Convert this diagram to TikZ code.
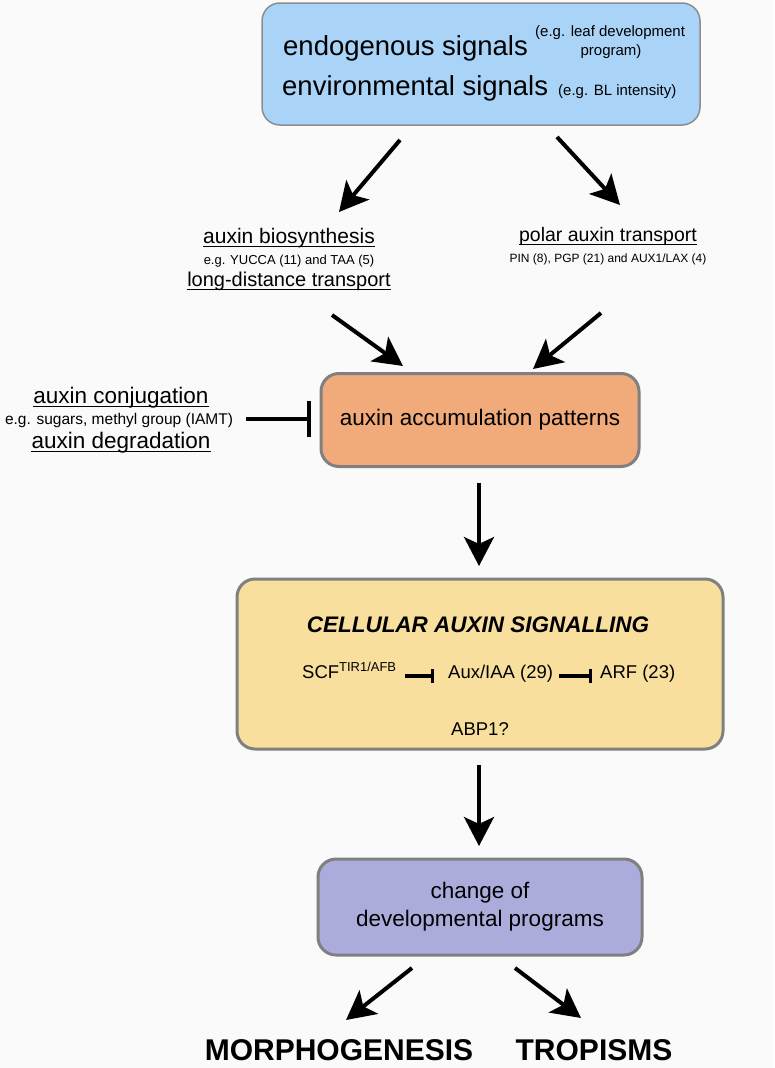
\documentclass[tikz,border=0pt]{standalone}
\usepackage{fontspec}
\setmainfont{Liberation Sans}
\usetikzlibrary{arrows.meta}

\definecolor{paper}{RGB}{250,250,250}
\definecolor{rimgray}{RGB}{128,128,128}
\definecolor{signalblue}{RGB}{170,212,247}
\definecolor{accorange}{RGB}{241,170,122}
\definecolor{cellyellow}{RGB}{248,223,158}
\definecolor{progviolet}{RGB}{172,172,220}

\tikzset{
  box/.style={draw=rimgray, line width=3pt, rounded corners=18pt, align=center,
    font=\fontsize{22.5}{28}\selectfont},
  head/.style={inner sep=0pt, anchor=base, font=\fontsize{22.5}{27}\selectfont},
  note/.style={inner sep=0pt, anchor=base, font=\fontsize{13}{16}\selectfont},
  small/.style={inner sep=0pt, anchor=base west, font=\fontsize{15}{18}\selectfont},
  uline/.style={line width=1.3pt},
  arr/.style={line width=4pt, -{Stealth[length=29pt,width=30pt,inset=7pt]}},
  blocker/.style={line width=4pt, -{Bar[width=36pt]}},
  miniblock/.style={line width=3.5pt, -{Bar[width=14pt]}},
}

\begin{document}
\begin{tikzpicture}[x=1pt,y=-1pt]
\useasboundingbox (0,0) rectangle (774,1068);
\fill[paper] (0,0) rectangle (774,1068);

% signals box
\node[box, line width=1.5pt, draw=rimgray!90, fill=signalblue,
  minimum width=438pt, minimum height=122pt] (signals) at (481,64) {};
\node[inner sep=0pt, anchor=base west, font=\fontsize{27.5}{30}\selectfont]
  (endo) at (283,55) {endogenous signals};
\node[small] (endoeg) at (535,36) {(e.g. leaf development};
\node[small, anchor=base] (endoprog) at (611,55) {program)};
\node[inner sep=0pt, anchor=base west, font=\fontsize{27.5}{30}\selectfont]
  (envi) at (282,95) {environmental signals};
\node[small] (envieg) at (558,95) {(e.g. BL intensity)};

% auxin sources
\node[head, font=\fontsize{21}{24}\selectfont] (bio) at (289,243) {auxin biosynthesis};
\node[note] (bioeg) at (289,264) {e.g. YUCCA (11) and TAA (5)};
\node[head, font=\fontsize{20}{24}\selectfont] (ldt) at (289,286) {long-distance transport};
\node[head, font=\fontsize{19.5}{24}\selectfont] (pat) at (608,241) {polar auxin transport};
\node[note, font=\fontsize{12}{14}\selectfont] (pateg) at (608,262)
  {PIN (8), PGP (21) and AUX1/LAX (4)};

% auxin removal
\node[head] (conj) at (121,403) {auxin conjugation};
\node[note, font=\fontsize{15.5}{18}\selectfont] (conjeg) at (119,424)
  {e.g. sugars, methyl group (IAMT)};
\node[head] (degr) at (121,448) {auxin degradation};

\foreach \n in {bio,ldt,pat,conj,degr}
  \draw[uline] ([yshift=-3.5pt]\n.base west) -- ([yshift=-3.5pt]\n.base east);

% accumulation
\node[box, fill=accorange, minimum width=318pt, minimum height=93pt]
  (accum) at (480,420) {auxin accumulation patterns};

% signalling box
\node[box, fill=cellyellow, minimum width=486pt, minimum height=170pt]
  (cell) at (480,664) {};
\node[inner sep=0pt, anchor=base, font=\fontsize{22.5}{27}\bfseries\itshape\selectfont]
  (celltitle) at (478,632) {CELLULAR AUXIN SIGNALLING};
\node[inner sep=0pt, anchor=base west, font=\fontsize{18.5}{22}\selectfont]
  (scf) at (302,678) {SCF\textsuperscript{TIR1/AFB}};
\node[inner sep=0pt, anchor=base west, font=\fontsize{18.5}{22}\selectfont]
  (aux) at (448,678) {Aux/IAA (29)};
\node[inner sep=0pt, anchor=base west, font=\fontsize{18.5}{22}\selectfont]
  (arf) at (600,678) {ARF (23)};
\node[inner sep=0pt, anchor=base, font=\fontsize{18.5}{22}\selectfont]
  (abp) at (480,735) {ABP1?};
\draw[miniblock] ([xshift=8pt,yshift=2pt]scf.base east) -- ([xshift=-14pt,yshift=2pt]aux.base west);
\draw[miniblock] ([xshift=6pt,yshift=2pt]aux.base east) -- ([xshift=-8pt,yshift=2pt]arf.base west);

% programs box
\node[box, fill=progviolet, minimum width=324pt, minimum height=96pt]
  (prog) at (480,907) {change of\\developmental programs};

% outcomes
\node[inner sep=0pt, anchor=base, font=\fontsize{30}{34}\bfseries\selectfont]
  (morph) at (339,1060) {MORPHOGENESIS};
\node[inner sep=0pt, anchor=base, font=\fontsize{30}{34}\bfseries\selectfont]
  (trop) at (594,1060) {TROPISMS};

% arrow ends
\coordinate (tl0) at (400,140);  \coordinate (tl1) at (339,212);
\coordinate (tr0) at (557,137);  \coordinate (tr1) at (620,205);
\coordinate (ml0) at (332,315);  \coordinate (ml1) at (403,366);
\coordinate (mr0) at (601,313);  \coordinate (mr1) at (533,369);
\coordinate (d10) at (479,483);  \coordinate (d11) at (479,566);
\coordinate (d20) at (479,765);  \coordinate (d21) at (479,846);
\coordinate (bl0) at (412,968);  \coordinate (bl1) at (346,1020);
\coordinate (br0) at (515,968);  \coordinate (br1) at (581,1018);
\coordinate (inh0) at (246,419); \coordinate (inh1) at (311,419);

\draw[arr] (tl0) -- (tl1);
\draw[arr] (tr0) -- (tr1);
\draw[arr] (ml0) -- (ml1);
\draw[arr] (mr0) -- (mr1);
\draw[arr] (d10) -- (d11);
\draw[arr] (d20) -- (d21);
\draw[arr] (bl0) -- (bl1);
\draw[arr] (br0) -- (br1);
\draw[blocker] (inh0) -- (inh1);
\end{tikzpicture}
\end{document}
